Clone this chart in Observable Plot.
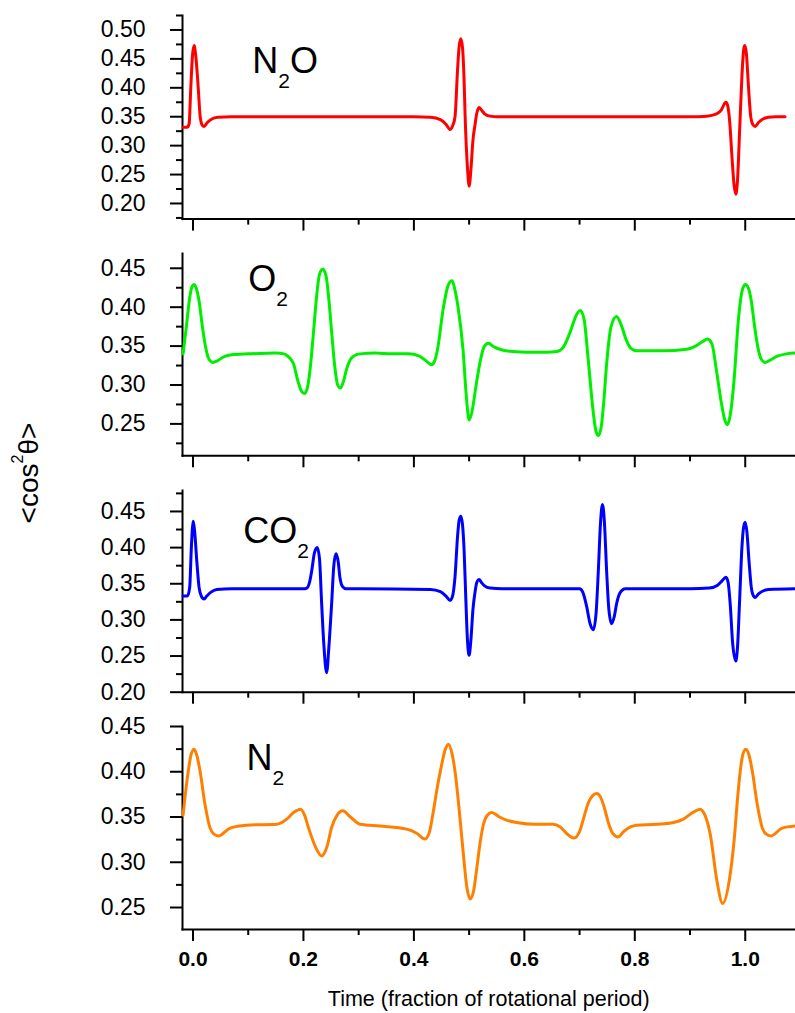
<!DOCTYPE html>
<html><head><meta charset="utf-8">
<script src="https://cdn.jsdelivr.net/npm/d3@7"></script>
<script src="https://cdn.jsdelivr.net/npm/@observablehq/plot@0.6"></script>
<style>
body{margin:0;background:#fff;}
#wrap{position:relative;width:795px;height:1013px;font-family:"Liberation Sans",Arial,sans-serif;color:#000;}
.panel{position:absolute;left:0;}
.sp{position:absolute;font-size:36px;line-height:36px;white-space:nowrap;}
.sp .s{font-size:21px;position:relative;top:15px;}
.ylab{position:absolute;left:31px;top:473px;font-size:28px;line-height:28px;white-space:nowrap;transform:translate(-50%,-50%) rotate(-90deg);}
.ylab .sup{font-size:16px;position:relative;top:-15px;}
.xlab{position:absolute;left:488.75px;top:988.5px;font-size:21.5px;line-height:21.5px;white-space:nowrap;transform:translateX(-50%);}
</style></head><body><div id="wrap"></div>
<script>
// ---- data ----
const xDomain = [-0.019, 1.091];
const xMajor = [0, 0.2, 0.4, 0.6, 0.8, 1.0];
const xMinor = [0.1, 0.3, 0.5, 0.7, 0.9];

const n2oT = [-0.018,-0.010,-0.007,-0.004,-0.001,0.002,0.005,0.0095,0.013,0.017,0.020,0.026,0.034,0.045,0.070,0.200,0.400,0.430,0.448,0.458,0.4655,0.470,0.4745,0.479,0.482,0.485,0.488,0.491,0.4928,0.497,0.500,0.503,0.507,0.511,0.5127,0.515,0.518,0.522,0.528,0.538,0.550,0.700,0.900,0.930,0.948,0.957,0.962,0.965,0.968,0.972,0.976,0.980,0.983,0.986,0.990,0.994,0.997,0.999,1.002,1.006,1.010,1.014,1.018,1.024,1.032,1.042,1.055,1.072];
const n2oV = [0.332,0.332,0.338,0.400,0.455,0.473,0.455,0.400,0.350,0.335,0.333,0.340,0.346,0.349,0.350,0.350,0.350,0.349,0.345,0.337,0.328,0.334,0.350,0.430,0.472,0.485,0.470,0.410,0.350,0.262,0.230,0.255,0.310,0.338,0.350,0.360,0.366,0.362,0.355,0.351,0.350,0.350,0.350,0.351,0.355,0.362,0.372,0.375,0.370,0.340,0.280,0.230,0.216,0.240,0.330,0.420,0.465,0.473,0.460,0.400,0.350,0.336,0.333,0.340,0.346,0.349,0.350,0.350];

const o2T = [-0.018,-0.012,-0.006,-0.002,0.002,0.006,0.011,0.017,0.023,0.029,0.036,0.044,0.055,0.070,0.100,0.150,0.165,0.1697,0.176,0.1821,0.190,0.1965,0.2017,0.207,0.212,0.218,0.224,0.229,0.235,0.241,0.246,0.2513,0.257,0.262,0.267,0.273,0.278,0.2844,0.293,0.3025,0.330,0.360,0.390,0.410,0.422,0.432,0.437,0.4426,0.4535,0.462,0.4687,0.475,0.480,0.489,0.495,0.500,0.505,0.5127,0.520,0.527,0.535,0.545,0.560,0.580,0.604,0.640,0.659,0.670,0.683,0.693,0.701,0.708,0.716,0.724,0.729,0.734,0.739,0.744,0.749,0.757,0.767,0.775,0.785,0.793,0.803,0.850,0.894,0.910,0.923,0.932,0.940,0.948,0.957,0.963,0.968,0.973,0.979,0.988,0.994,1.000,1.006,1.011,1.017,1.023,1.029,1.036,1.045,1.058,1.075,1.091];
const o2V = [0.340,0.375,0.412,0.426,0.429,0.424,0.408,0.375,0.348,0.333,0.329,0.331,0.336,0.339,0.340,0.341,0.340,0.338,0.334,0.327,0.305,0.292,0.289,0.296,0.320,0.366,0.415,0.442,0.449,0.440,0.410,0.366,0.322,0.300,0.296,0.306,0.320,0.332,0.338,0.340,0.341,0.340,0.340,0.337,0.331,0.326,0.330,0.345,0.400,0.428,0.434,0.420,0.400,0.345,0.285,0.255,0.265,0.300,0.330,0.349,0.3536,0.349,0.345,0.343,0.342,0.342,0.343,0.348,0.368,0.388,0.3956,0.385,0.330,0.270,0.243,0.235,0.245,0.280,0.327,0.375,0.388,0.378,0.357,0.347,0.344,0.344,0.346,0.350,0.356,0.359,0.352,0.318,0.276,0.255,0.249,0.262,0.300,0.387,0.420,0.429,0.424,0.408,0.375,0.348,0.333,0.329,0.332,0.337,0.340,0.341];

const co2T = [-0.018,-0.010,-0.006,-0.003,0.0005,0.003,0.007,0.011,0.015,0.020,0.025,0.032,0.043,0.070,0.200,0.206,0.211,0.215,0.220,0.225,0.229,0.233,0.237,0.242,0.246,0.251,0.255,0.259,0.263,0.266,0.271,0.278,0.300,0.430,0.448,0.458,0.4655,0.470,0.4745,0.479,0.482,0.485,0.488,0.491,0.494,0.497,0.500,0.503,0.507,0.511,0.514,0.518,0.522,0.528,0.538,0.560,0.700,0.706,0.713,0.719,0.725,0.730,0.734,0.738,0.7415,0.745,0.749,0.753,0.758,0.763,0.767,0.773,0.783,0.900,0.935,0.950,0.958,0.965,0.969,0.973,0.977,0.983,0.986,0.990,0.994,0.997,1.000,1.003,1.007,1.011,1.015,1.018,1.024,1.032,1.042,1.091];
const co2V = [0.333,0.333,0.345,0.400,0.4366,0.422,0.380,0.345,0.333,0.329,0.333,0.338,0.342,0.343,0.343,0.344,0.352,0.368,0.393,0.400,0.385,0.322,0.265,0.227,0.262,0.322,0.375,0.3915,0.380,0.359,0.346,0.343,0.343,0.342,0.339,0.333,0.327,0.333,0.360,0.415,0.438,0.4435,0.432,0.395,0.330,0.272,0.251,0.270,0.315,0.340,0.352,0.356,0.352,0.347,0.344,0.343,0.343,0.338,0.318,0.295,0.2864,0.310,0.368,0.435,0.4597,0.435,0.368,0.315,0.2947,0.305,0.322,0.337,0.343,0.343,0.344,0.348,0.354,0.359,0.352,0.320,0.270,0.243,0.262,0.330,0.400,0.428,0.435,0.422,0.380,0.345,0.333,0.331,0.336,0.340,0.342,0.343];

const n2T = [-0.018,-0.0085,-0.003,0.002,0.007,0.0127,0.0217,0.0308,0.038,0.046,0.067,0.097,0.1516,0.1697,0.182,0.195,0.202,0.209,0.221,0.233,0.243,0.251,0.261,0.271,0.285,0.3025,0.3388,0.387,0.405,0.420,0.428,0.4354,0.4430,0.4505,0.4565,0.4626,0.4690,0.4750,0.4820,0.4897,0.4960,0.5018,0.508,0.514,0.520,0.526,0.533,0.541,0.555,0.5676,0.586,0.620,0.652,0.665,0.678,0.690,0.700,0.708,0.716,0.724,0.731,0.738,0.745,0.752,0.760,0.770,0.780,0.792,0.803,0.840,0.870,0.888,0.905,0.918,0.927,0.9366,0.9487,0.959,0.9728,0.980,0.986,0.991,0.996,1.001,1.007,1.0127,1.0217,1.0308,1.038,1.046,1.067,1.091];
const n2V = [0.352,0.401,0.420,0.425,0.418,0.401,0.364,0.338,0.331,0.329,0.3377,0.341,0.342,0.3477,0.355,0.3587,0.352,0.3384,0.318,0.307,0.318,0.3384,0.352,0.3568,0.350,0.342,0.340,0.3366,0.332,0.3256,0.333,0.357,0.385,0.4085,0.424,0.4305,0.420,0.398,0.358,0.308,0.272,0.2593,0.268,0.294,0.322,0.342,0.352,0.355,0.350,0.3466,0.344,0.342,0.342,0.339,0.331,0.3267,0.334,0.350,0.366,0.374,0.376,0.372,0.360,0.344,0.332,0.328,0.334,0.339,0.341,0.342,0.344,0.3477,0.355,0.3587,0.352,0.331,0.2795,0.2544,0.287,0.325,0.370,0.401,0.420,0.425,0.418,0.401,0.364,0.338,0.331,0.329,0.3377,0.340];

const species = ["N₂O","O₂","CO₂","N₂"];
const colors = ["#ff0000","#00ee00","#0000ff","#ff8000"];
const yDomains = [[0.173,0.525],[0.209,0.469],[0.200,0.479],[0.2257,0.450]];
const yMajors = [[0.20,0.25,0.30,0.35,0.40,0.45,0.50],[0.25,0.30,0.35,0.40,0.45],[0.20,0.25,0.30,0.35,0.40,0.45],[0.25,0.30,0.35,0.40,0.45]];
const yMinors = [[0.175,0.225,0.275,0.325,0.375,0.425,0.475,0.525],[0.225,0.275,0.325,0.375,0.425],[0.225,0.275,0.325,0.375,0.425,0.475],[0.275,0.325,0.375,0.425]];

// ---- layout ----
const series = [[n2oT,n2oV],[o2T,o2V],[co2T,co2V],[n2T,n2V]];
const axisTops = [14.7, 252.7, 490, 725.7];
const axisBottoms = [218.3, 455, 691.7, 928.7];
const wrap = document.getElementById("wrap");
const mt = 14;
const blank = () => "";

series.forEach(([T,V], i) => {
  const last = i === 3;
  const mb = last ? 50 : 16;
  const ph = axisBottoms[i] - axisTops[i];
  const data = T.map((t,k) => ({t, v: V[k]}));
  const marks = [
    Plot.axisY(yMinors[i], {tickSize: 6, strokeWidth: 2, stroke: "#000", tickFormat: blank, label: null}),
    Plot.axisY(yMajors[i], {tickSize: 12, tickPadding: 25, strokeWidth: 2, stroke: "#000", tickFormat: d3.format(".2f"), fontSize: 23, fill: "#000", label: null}),
    Plot.axisX(xMinor, {tickSize: 6, strokeWidth: 2, stroke: "#000", tickFormat: blank, label: null}),
    last
      ? Plot.axisX(xMajor, {tickSize: 12, tickPadding: 10, strokeWidth: 2, stroke: "#000", tickFormat: d3.format(".1f"), fontSize: 21, fontWeight: "bold", fill: "#000", label: null})
      : Plot.axisX(xMajor, {tickSize: 12, strokeWidth: 2, stroke: "#000", tickFormat: blank, label: null}),
    Plot.frame({anchor: "left", strokeWidth: 2, stroke: "#000"}),
    Plot.frame({anchor: "bottom", strokeWidth: 2, stroke: "#000"}),
    Plot.line(data, {x: "t", y: "v", stroke: colors[i], strokeWidth: 3, curve: "monotone-x"})
  ];
  const svg = Plot.plot({
    width: 795,
    height: mt + ph + mb,
    marginLeft: 182, marginRight: 0, marginTop: mt, marginBottom: mb,
    x: {domain: xDomain},
    y: {domain: yDomains[i]},
    style: {background: "transparent", overflow: "visible", fontFamily: "Liberation Sans, Arial, sans-serif"},
    marks
  });
  svg.classList.add("panel");
  svg.style.top = (axisTops[i] - mt) + "px";
  svg.style.position = "absolute";
  wrap.appendChild(svg);
});

// species labels
const spPos = [[252.3,42.8],[248.2,260.5],[243.2,512.5],[246.6,739.5]];
species.forEach((s, i) => {
  const d = document.createElement("div");
  d.className = "sp";
  d.style.left = spPos[i][0] + "px";
  d.style.top = spPos[i][1] + "px";
  const parts = s.split("₂");
  d.innerHTML = parts[0] + '<span class="s">2</span>' + parts[1];
  wrap.appendChild(d);
});

const yl = document.createElement("div");
yl.className = "ylab";
yl.innerHTML = '&lt;cos<span class="sup">2</span>θ&gt;';
wrap.appendChild(yl);

const xl = document.createElement("div");
xl.className = "xlab";
xl.textContent = "Time (fraction of rotational period)";
wrap.appendChild(xl);
</script>
</body></html>
